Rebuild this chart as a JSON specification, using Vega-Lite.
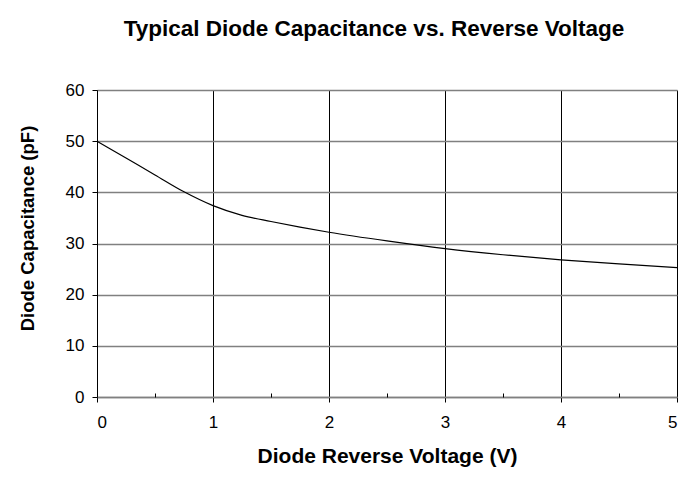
{
  "$schema": "https://vega.github.io/schema/vega-lite/v6.json",
  "autosize": {"type": "none"},
  "padding": {"left": 97, "top": 90, "right": 7, "bottom": 88},
  "width": 580,
  "height": 307,
  "background": "white",
  "config": {
    "font": "Liberation Sans",
    "view": {"stroke": null}
  },
  "title": {
    "text": "Typical Diode Capacitance vs. Reverse Voltage",
    "font": "Liberation Sans",
    "fontSize": 22.5,
    "fontWeight": "bold",
    "color": "black",
    "anchor": "middle",
    "dx": -13,
    "offset": 41
  },
  "data": {
    "values": [
      {"v": 0, "c": 50.0},
      {"v": 0.25, "c": 46.7},
      {"v": 0.5, "c": 43.4},
      {"v": 0.75, "c": 40.1},
      {"v": 1.0, "c": 37.4},
      {"v": 1.25, "c": 35.5},
      {"v": 1.5, "c": 34.3},
      {"v": 1.75, "c": 33.2},
      {"v": 2.0, "c": 32.2},
      {"v": 2.5, "c": 30.5},
      {"v": 3.0, "c": 29.0},
      {"v": 3.5, "c": 27.8},
      {"v": 4.0, "c": 26.8},
      {"v": 4.5, "c": 26.0},
      {"v": 5.0, "c": 25.3}
    ]
  },
  "resolve": {"axis": {"x": "independent"}},
  "layer": [
    {
      "mark": {"type": "line", "color": "black", "strokeWidth": 1.2, "interpolate": "monotone"},
      "encoding": {
        "x": {
          "field": "v", "type": "quantitative",
          "scale": {"domain": [0, 5], "nice": false},
          "axis": {
            "title": "Diode Reverse Voltage (V)",
            "titleFont": "Liberation Sans", "titleFontSize": 21, "titleFontWeight": "bold", "titleColor": "black",
            "titlePadding": 15,
            "values": [0, 1, 2, 3, 4, 5],
            "labelFont": "Liberation Sans", "labelFontSize": 17, "labelColor": "black", "labelPadding": 12,
            "grid": true, "gridColor": "black", "gridOpacity": 1, "gridWidth": 1,
            "domainColor": "#808080", "domainWidth": 1.5,
            "tickColor": "black", "tickSize": 5
          }
        },
        "y": {
          "field": "c", "type": "quantitative",
          "scale": {"domain": [0, 60], "nice": false},
          "axis": {
            "title": "Diode Capacitance (pF)",
            "titleFont": "Liberation Sans", "titleFontSize": 18.5, "titleFontWeight": "bold", "titleColor": "black",
            "titleX": -60, "titleY": 138, "titleAngle": -90, "titleAlign": "center", "titleBaseline": "bottom",
            "values": [0, 10, 20, 30, 40, 50, 60],
            "labelFont": "Liberation Sans", "labelFontSize": 17, "labelColor": "black", "labelPadding": 8,
            "grid": true, "gridColor": "#808080", "gridOpacity": 1, "gridWidth": 1.5,
            "domainColor": "black", "domainWidth": 1,
            "tickColor": "black", "tickSize": 5
          }
        }
      }
    },
    {
      "mark": {"type": "line", "strokeOpacity": 0},
      "encoding": {
        "x": {
          "field": "v", "type": "quantitative",
          "scale": {"domain": [0, 5], "nice": false},
          "axis": {
            "orient": "bottom",
            "title": null,
            "values": [0.5, 1.5, 2.5, 3.5, 4.5],
            "labels": false, "grid": false, "domain": false,
            "tickColor": "black", "tickSize": -4, "tickWidth": 1
          }
        },
        "y": {"field": "c", "type": "quantitative"}
      }
    }
  ]
}
